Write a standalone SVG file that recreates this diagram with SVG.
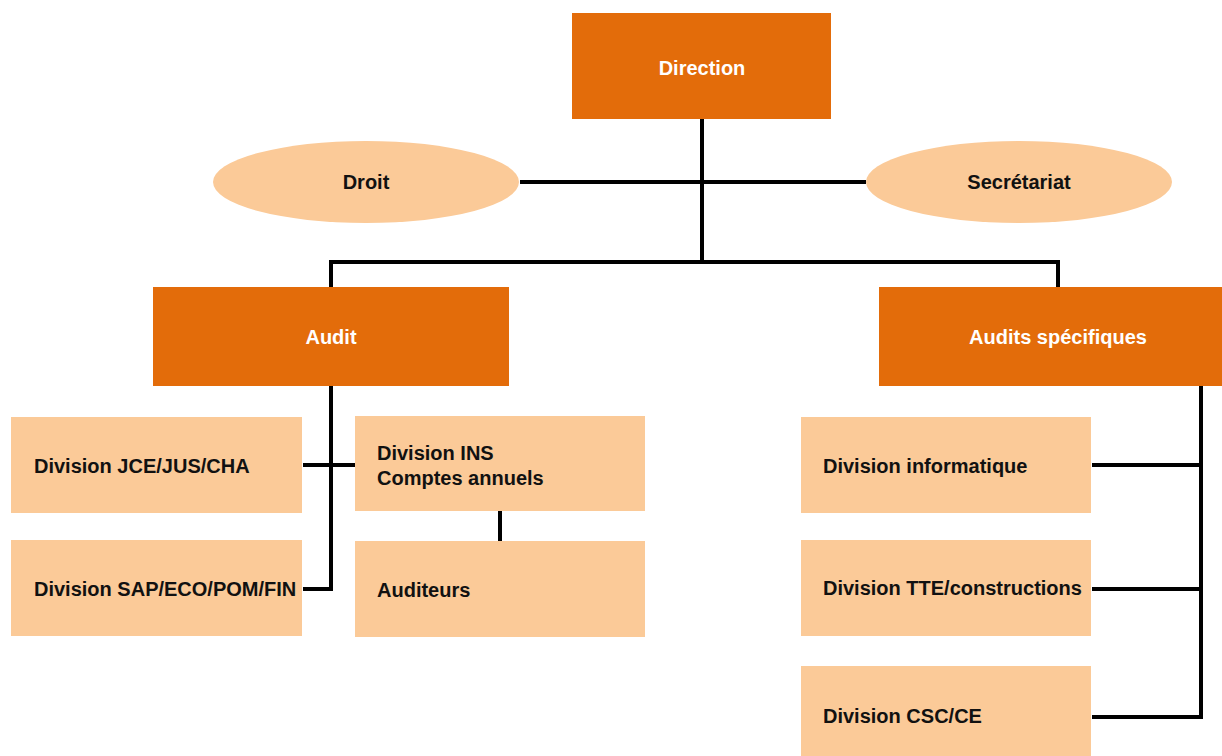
<svg xmlns="http://www.w3.org/2000/svg" width="1222" height="756" viewBox="0 0 1222 756">
  <style>
    .head { fill: #E36C0A; }
    .unit { fill: #FBCA98; }
    .lbl { font-family: "Liberation Sans", Arial, sans-serif; font-weight: bold; font-size: 20px; fill: #111; }
    .lbl-w { font-family: "Liberation Sans", Arial, sans-serif; font-weight: bold; font-size: 20px; fill: #fff; }
    .mid { text-anchor: middle; }
    .wire { stroke: #000; stroke-width: 4; fill: none; }
  </style>
  <rect width="1222" height="756" fill="#fff"/>

  <!-- connectors -->
  <g id="connectors">
    <path class="wire" d="M702 119 V262"/>
    <path class="wire" d="M520 182 H866"/>
    <path class="wire" d="M331 287 V262 H1058 V287"/>
    <path class="wire" d="M331 386 V589 H303"/>
    <path class="wire" d="M303 465 H355"/>
    <path class="wire" d="M500 511 V541"/>
    <path class="wire" d="M1201 386 V717 H1092"/>
    <path class="wire" d="M1092 465 H1201"/>
    <path class="wire" d="M1092 589 H1201"/>
  </g>

  <g id="direction">
    <rect class="head" x="572" y="13" width="259" height="106"/>
    <text class="lbl-w mid" x="702" y="75">Direction</text>
  </g>

  <g id="droit">
    <ellipse class="unit" cx="366" cy="182" rx="153" ry="41"/>
    <text class="lbl mid" x="366" y="189">Droit</text>
  </g>

  <g id="secretariat">
    <ellipse class="unit" cx="1019" cy="182" rx="153" ry="41"/>
    <text class="lbl mid" x="1019" y="189">Secrétariat</text>
  </g>

  <g id="audit">
    <rect class="head" x="153" y="287" width="356" height="99"/>
    <text class="lbl-w mid" x="331" y="344">Audit</text>
  </g>

  <g id="audits-specifiques">
    <rect class="head" x="879" y="287" width="343" height="99"/>
    <text class="lbl-w mid" x="1058" y="344">Audits spécifiques</text>
  </g>

  <g id="div-jce">
    <rect class="unit" x="11" y="417" width="291" height="96"/>
    <text class="lbl" x="34" y="473">Division JCE/JUS/CHA</text>
  </g>

  <g id="div-sap">
    <rect class="unit" x="11" y="540" width="291" height="96"/>
    <text class="lbl" x="34" y="596">Division SAP/ECO/POM/FIN</text>
  </g>

  <g id="div-ins">
    <rect class="unit" x="355" y="416" width="290" height="95"/>
    <text class="lbl" x="377" y="460">Division INS</text>
    <text class="lbl" x="377" y="485">Comptes annuels</text>
  </g>

  <g id="auditeurs">
    <rect class="unit" x="355" y="541" width="290" height="96"/>
    <text class="lbl" x="377" y="597">Auditeurs</text>
  </g>

  <g id="div-informatique">
    <rect class="unit" x="801" y="417" width="290" height="96"/>
    <text class="lbl" x="823" y="473">Division informatique</text>
  </g>

  <g id="div-tte">
    <rect class="unit" x="801" y="540" width="290" height="96"/>
    <text class="lbl" x="823" y="595">Division TTE/constructions</text>
  </g>

  <g id="div-csc">
    <rect class="unit" x="801" y="666" width="290" height="90"/>
    <text class="lbl" x="823" y="723">Division CSC/CE</text>
  </g>
</svg>
